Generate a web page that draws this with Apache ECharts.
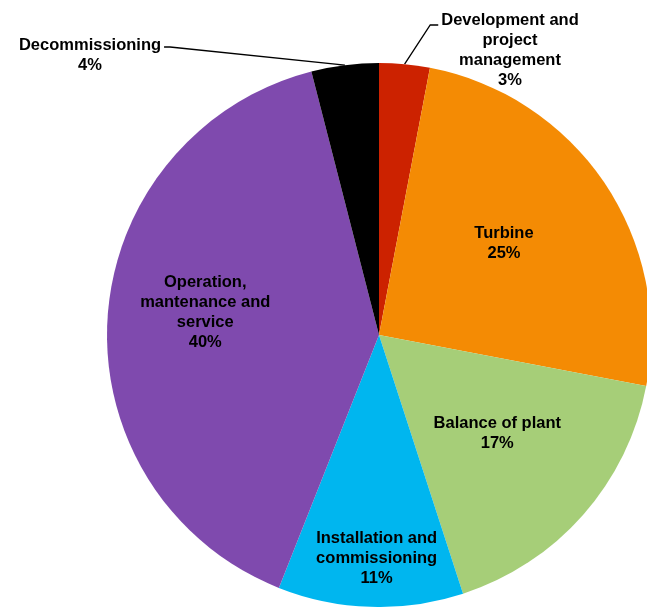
<!DOCTYPE html>
<html>
<head>
<meta charset="utf-8">
<script src="https://cdn.jsdelivr.net/npm/echarts@6/dist/echarts.min.js"></script>
<style>
  html, body { margin: 0; padding: 0; background: #fff; }
  #chart { width: 647px; height: 607px; }
</style>
</head>
<body>
<div id="chart"></div>
<script>
// Lifetime cost breakdown, shares in percent
const categories = [
  'Development and\nproject\nmanagement',
  'Turbine',
  'Balance of plant',
  'Installation and\ncommissioning',
  'Operation,\nmantenance and\nservice',
  'Decommissioning'
];
const shares = [3, 25, 17, 11, 40, 4];
const colors = ['#CC2200', '#F48B04', '#A6CE78', '#00B6EF', '#7F4AAE', '#000000'];

// Label placement: inside labels nudged from the slice centre, outside labels with leader lines
const insideOffsets = [null, [10, -13], [14, 7], [2, 85], [-35, -14], null];
const outsidePlacement = {
  0: { x: 510, y: 50, side: 'left' },
  5: { x: 90, y: 55, side: 'right' }
};

const LINE_H = 20;

const chart = echarts.init(document.getElementById('chart'), null, { renderer: 'canvas' });

const data = categories.map((name, i) => {
  const item = {
    name: name,
    value: shares[i],
    itemStyle: { color: colors[i] }
  };
  if (insideOffsets[i]) {
    item.label = { position: 'inside', offset: insideOffsets[i] };
    item.labelLine = { show: false };
  } else {
    item.label = { position: 'outside' };
    item.labelLine = { show: true, length: 10, length2: 10 };
  }
  return item;
});

chart.setOption({
  animation: false,
  backgroundColor: '#ffffff',
  series: [{
    type: 'pie',
    center: [379, 335],
    radius: [0, 272],
    startAngle: 90,
    clockwise: true,
    avoidLabelOverlap: false,
    itemStyle: { borderWidth: 0 },
    label: {
      show: true,
      color: '#000',
      fontFamily: 'Liberation Sans, Arial, sans-serif',
      fontWeight: 'bold',
      fontSize: 16.5,
      lineHeight: LINE_H,
      align: 'center',
      formatter: p => p.name + '\n' + p.value + '%'
    },
    labelLine: {
      lineStyle: { color: '#000', width: 1.3 },
      smooth: false
    },
    emphasis: { disabled: true },
    data: data,
    labelLayout: function (params) {
      const place = outsidePlacement[params.dataIndex];
      if (!place) return {};
      const w = params.labelRect.width;
      const h = params.labelRect.height;
      const anchor = params.labelLinePoints ? params.labelLinePoints[0] : null;
      let end, bend;
      if (place.side === 'left') {
        // joins the first text line on its left
        end = [place.x - w / 2 - 3, place.y - h / 2 + LINE_H / 2 + 5];
        bend = [end[0] - 8, end[1]];
      } else {
        // joins the first text line on its right
        end = [place.x + w / 2 + 3, place.y - h / 2 + LINE_H / 2 + 2];
        bend = [end[0] + 6, end[1]];
      }
      const out = {
        x: place.x,
        y: place.y,
        align: 'center',
        verticalAlign: 'middle'
      };
      if (anchor) out.labelLinePoints = [anchor, bend, end];
      return out;
    }
  }]
});
</script>
</body>
</html>
